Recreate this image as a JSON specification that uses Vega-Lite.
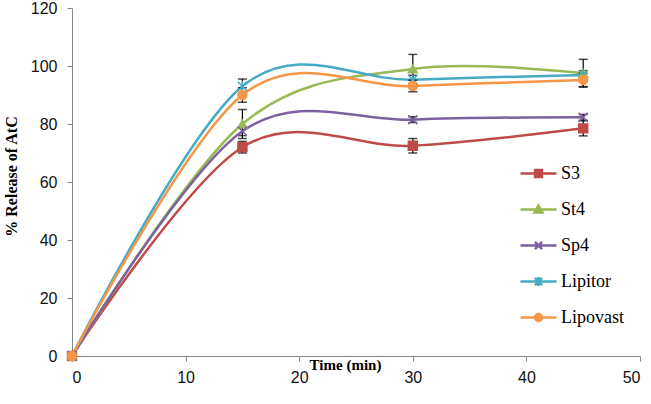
{
  "$schema": "https://vega.github.io/schema/vega-lite/v6.json",
  "autosize": "none",
  "width": 568,
  "height": 348,
  "padding": {"left": 72, "top": 8, "right": 11, "bottom": 48},
  "background": "white",
  "config": {
    "view": {"stroke": null},
    "axis": {
      "grid": false,
      "domainColor": "#868686",
      "tickColor": "#868686",
      "tickSize": 5,
      "labelFont": "Liberation Sans",
      "labelFontSize": 16,
      "labelColor": "#111111",
      "titleFont": "Liberation Serif",
      "titleFontSize": 15,
      "titleFontWeight": "bold",
      "titleColor": "black"
    }
  },
  "data": {
    "values": [
      {"series": "S3", "t": 0, "v": 0, "err": 0},
      {"series": "S3", "t": 15, "v": 72, "err": 2},
      {"series": "S3", "t": 30, "v": 72.5, "err": 2.5},
      {"series": "S3", "t": 45, "v": 78.5, "err": 2.6},
      {"series": "St4", "t": 0, "v": 0, "err": 0},
      {"series": "St4", "t": 15, "v": 80, "err": 5},
      {"series": "St4", "t": 30, "v": 99, "err": 5},
      {"series": "St4", "t": 45, "v": 97.5, "err": 4.8},
      {"series": "Sp4", "t": 0, "v": 0, "err": 0},
      {"series": "Sp4", "t": 15, "v": 77.5, "err": 1.5},
      {"series": "Sp4", "t": 30, "v": 81.5, "err": 1},
      {"series": "Sp4", "t": 45, "v": 82.3, "err": 1},
      {"series": "Lipitor", "t": 0, "v": 0, "err": 0},
      {"series": "Lipitor", "t": 15, "v": 93, "err": 2.5},
      {"series": "Lipitor", "t": 30, "v": 95.3, "err": 1.5},
      {"series": "Lipitor", "t": 45, "v": 96.9, "err": 1.5},
      {"series": "Lipovast", "t": 0, "v": 0, "err": 0},
      {"series": "Lipovast", "t": 15, "v": 90, "err": 2.5},
      {"series": "Lipovast", "t": 30, "v": 93.1, "err": 2},
      {"series": "Lipovast", "t": 45, "v": 95.2, "err": 2.3}
    ]
  },
  "encoding": {
    "x": {
      "field": "t",
      "type": "quantitative",
      "scale": {"domain": [0, 50]},
      "axis": {
        "values": [0, 10, 20, 30, 40, 50],
        "labelPadding": 8,
        "title": "Time (min)",
        "titleX": 273,
        "titleY": 8,
        "titleBaseline": "middle",
        "titleAlign": "center"
      }
    },
    "y": {
      "field": "v",
      "type": "quantitative",
      "scale": {"domain": [0, 120]},
      "axis": {
        "values": [0, 20, 40, 60, 80, 100, 120],
        "labelPadding": 10,
        "title": "% Release of AtC",
        "titleFontSize": 16,
        "titleX": -61,
        "titleY": 168,
        "titleBaseline": "middle",
        "titleAlign": "center"
      }
    }
  },
  "layer": [
    {
      "mark": {"type": "line", "interpolate": "cardinal", "strokeWidth": 2.5},
      "encoding": {
        "color": {
          "field": "series",
          "type": "nominal",
          "scale": {
            "domain": ["S3", "St4", "Sp4", "Lipitor", "Lipovast"],
            "range": ["#BE4B48", "#98B954", "#7D60A0", "#46AAC5", "#F79646"]
          },
          "legend": null
        }
      }
    },
    {
      "transform": [{"filter": "datum.err > 0"}],
      "mark": {
        "type": "errorbar",
        "color": "black",
        "thickness": 1.2,
        "ticks": {"size": 9, "thickness": 1.5, "color": "black"}
      },
      "encoding": {
        "yError": {"field": "err"}
      }
    },
    {
      "mark": {"type": "point", "filled": true, "size": 80, "strokeWidth": 1.5, "opacity": 1},
      "encoding": {
        "color": {
          "field": "series",
          "type": "nominal",
          "scale": {
            "domain": ["S3", "St4", "Sp4", "Lipitor", "Lipovast"],
            "range": ["#BE4B48", "#98B954", "#7D60A0", "#46AAC5", "#F79646"]
          },
          "legend": null
        },
        "stroke": {
          "field": "series",
          "type": "nominal",
          "scale": {
            "domain": ["S3", "St4", "Sp4", "Lipitor", "Lipovast"],
            "range": ["#BE4B48", "#98B954", "#7D60A0", "#46AAC5", "#F79646"]
          },
          "legend": null
        },
        "shape": {
          "field": "series",
          "type": "nominal",
          "scale": {
            "domain": ["S3", "St4", "Sp4", "Lipitor", "Lipovast"],
            "range": [
              "square",
              "triangle-up",
              "M-1,-1L1,1M-1,1L1,-1",
              "M-1,-1L1,1M-1,1L1,-1M0,-1.2V1.2",
              "circle"
            ]
          },
          "legend": null
        }
      }
    },
    {
      "transform": [{"filter": "false"}],
      "mark": {"type": "point", "filled": false, "size": 1296, "strokeWidth": 2.5, "opacity": 1},
      "encoding": {
        "color": {
          "field": "series",
          "type": "nominal",
          "scale": {
            "domain": ["S3", "St4", "Sp4", "Lipitor", "Lipovast"],
            "range": ["#BE4B48", "#98B954", "#7D60A0", "#46AAC5", "#F79646"]
          },
          "legend": {
            "orient": "none",
            "legendX": 447,
            "legendY": 146,
            "title": null,
            "padding": 0,
            "rowPadding": 7,
            "symbolSize": 1296,
            "symbolStrokeWidth": 2.5,
            "symbolOpacity": 1,
            "labelFont": "Liberation Serif",
            "labelFontSize": 18,
            "labelColor": "black",
            "labelOffset": 3
          }
        },
        "shape": {
          "field": "series",
          "type": "nominal",
          "scale": {
            "domain": ["S3", "St4", "Sp4", "Lipitor", "Lipovast"],
            "range": [
              "M-1,0H1M-0.19,-0.19H0.19V0.19H-0.19ZM-0.08,-0.08H0.08V0.08H-0.08Z",
              "M-1,0H1M0,-0.22L0.22,0.16H-0.22ZM0,-0.08L0.08,0.07H-0.08Z",
              "M-1,0H1M-0.2,-0.2L0.2,0.2M-0.2,0.2L0.2,-0.2",
              "M-1,0H1M-0.2,-0.2L0.2,0.2M-0.2,0.2L0.2,-0.2M0,-0.25V0.25",
              "M-1,0H1M-0.19,0A0.19,0.19 0 1,0 0.19,0A0.19,0.19 0 1,0 -0.19,0ZM-0.08,0A0.08,0.08 0 1,0 0.08,0A0.08,0.08 0 1,0 -0.08,0Z"
            ]
          },
          "legend": {
            "orient": "none",
            "legendX": 447,
            "legendY": 146,
            "title": null,
            "padding": 0,
            "rowPadding": 7,
            "symbolSize": 1296,
            "symbolStrokeWidth": 2.5,
            "symbolOpacity": 1,
            "labelFont": "Liberation Serif",
            "labelFontSize": 18,
            "labelColor": "black",
            "labelOffset": 3
          }
        }
      }
    }
  ],
  "resolve": {"scale": {"color": "independent", "shape": "independent", "stroke": "independent"}}
}
